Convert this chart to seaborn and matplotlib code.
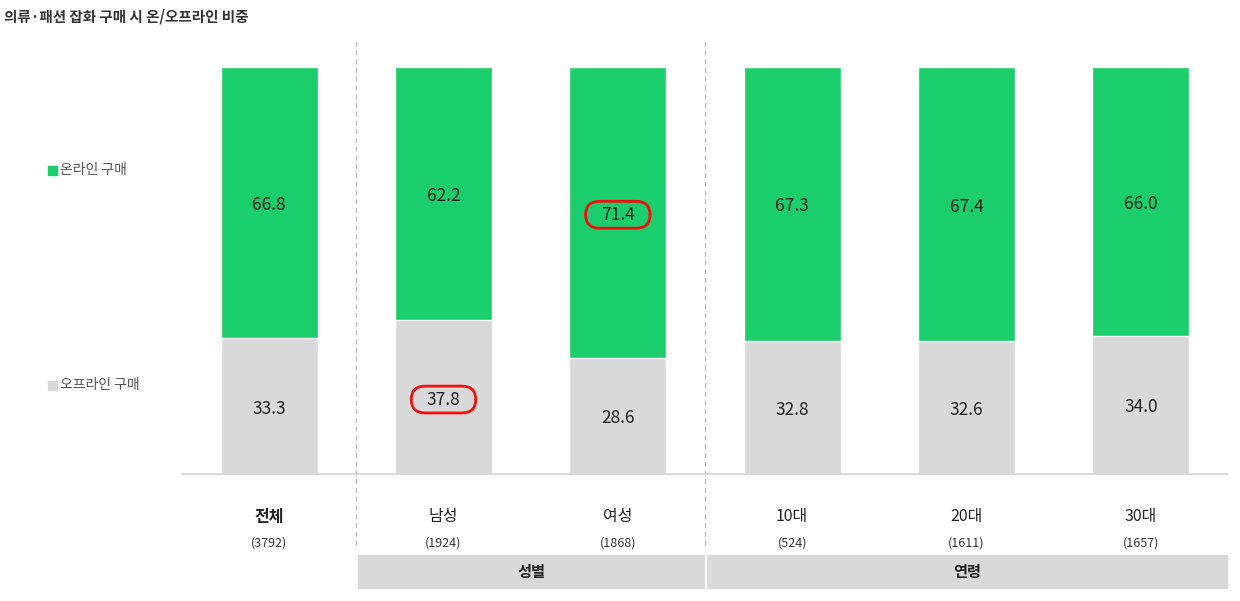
import matplotlib
matplotlib.use("Agg")
import matplotlib.pyplot as plt
import matplotlib.transforms as mtransforms
from matplotlib.patches import Rectangle, FancyBboxPatch
import pandas as pd
import seaborn as sns

# data
categories = ["전체", "남성", "여성", "10대", "20대", "30대"]
counts = ["(3792)", "(1924)", "(1868)", "(524)", "(1611)", "(1657)"]
online = [66.8, 62.2, 71.4, 67.3, 67.4, 66.0]
offline = [33.3, 37.8, 28.6, 32.8, 32.6, 34.0]
groups = [("성별", 1, 2), ("연령", 3, 5)]
highlight = [("online", 2), ("offline", 1)]

GREEN = "#1ccd6c"
GRAY = "#d9d9d9"

sns.set_style("white")
plt.rcParams["font.family"] = ["Noto Sans CJK KR", "DejaVu Sans"]

df = pd.DataFrame({"cat": categories, "online": online, "offline": offline})
df["total"] = df["online"] + df["offline"]

fig = plt.figure(figsize=(12.4, 6.01), dpi=100)
ax = fig.add_axes([182 / 1240, (601 - 474) / 601, 1046 / 1240, 407 / 601])

sns.barplot(data=df, x="cat", y="total", color=GREEN, saturation=1,
            width=0.557, ax=ax, order=categories)
sns.barplot(data=df, x="cat", y="offline", color=GRAY, saturation=1,
            width=0.557, ax=ax, order=categories)

ax.set_xlim(-0.5, 5.5)
ax.set_ylim(0, 100)
ax.set_xlabel("")
ax.set_ylabel("")
ax.set_xticks([])
ax.set_yticks([])
for s in ax.spines.values():
    s.set_visible(False)
ax.axhline(0, color="#d4d4d4", lw=1.2, zorder=5, clip_on=False)

# value labels
for i in range(len(categories)):
    ax.text(i, offline[i] + online[i] / 2 - 0.6, f"{online[i]:.1f}",
            ha="center", va="center", fontsize=12.5, color="#222222")
    ax.text(i, offline[i] / 2 - 0.6, f"{offline[i]:.1f}", ha="center",
            va="center", fontsize=12.5, color="#222222")

# red highlight boxes
for kind, i in highlight:
    yc = offline[i] + online[i] / 2 if kind == "online" else offline[i] / 2
    yc -= 0.6
    box = FancyBboxPatch((i - 0.185, yc - 3.3), 0.37, 6.6,
                         boxstyle="round,pad=0,rounding_size=0.08",
                         mutation_aspect=42, fill=False, ec="#f01010", lw=2.0,
                         zorder=6)
    ax.add_patch(box)

# dashed separators
for xs in [0.5, 2.5]:
    ax.axvline(xs, ymin=-0.174, ymax=1.066, color="#bbbbbb", lw=0.9,
               ls=(0, (4, 3)), clip_on=False)

# category labels
trans = mtransforms.blended_transform_factory(ax.transData, ax.transAxes)
for i, (c, n) in enumerate(zip(categories, counts)):
    ax.text(i, -0.105, c, transform=trans, ha="center", va="center",
            fontsize=11.5, color="#222222",
            fontweight="bold" if i == 0 else "normal")
    ax.text(i, -0.169, n, transform=trans, ha="center", va="center",
            fontsize=9, color="#333333")

# group boxes
for name, a, b in groups:
    x0 = a - 0.5 + (0.012 if a > 1 else 0.008)
    x1 = b + 0.5 + (0.0 if b == 5 else 0.0)
    ax.add_patch(Rectangle((x0, -0.282), x1 - x0, 0.084, transform=trans,
                           color=GRAY, clip_on=False, lw=0))
    ax.text((x0 + x1) / 2, -0.24, name, transform=trans, ha="center",
            va="center", fontsize=11, fontweight="bold", color="#222222")

# legend
fig.patches.append(Rectangle((48 / 1240, 1 - 175 / 601), 9 / 1240, 9 / 601,
                             transform=fig.transFigure, color=GREEN))
fig.text(60 / 1240, 1 - 170 / 601, "온라인 구매", fontsize=10, color="#555555",
         va="center")
fig.patches.append(Rectangle((48 / 1240, 1 - 390 / 601), 9 / 1240, 9 / 601,
                             transform=fig.transFigure, color=GRAY))
fig.text(60 / 1240, 1 - 385 / 601, "오프라인 구매", fontsize=10, color="#555555",
         va="center")

fig.text(4 / 1240, 1 - 16 / 601, "의류·패션 잡화 구매 시 온/오프라인 비중",
         fontsize=10.5, fontweight="bold", color="#333333", va="center")

fig.savefig("out.png", dpi=100)
